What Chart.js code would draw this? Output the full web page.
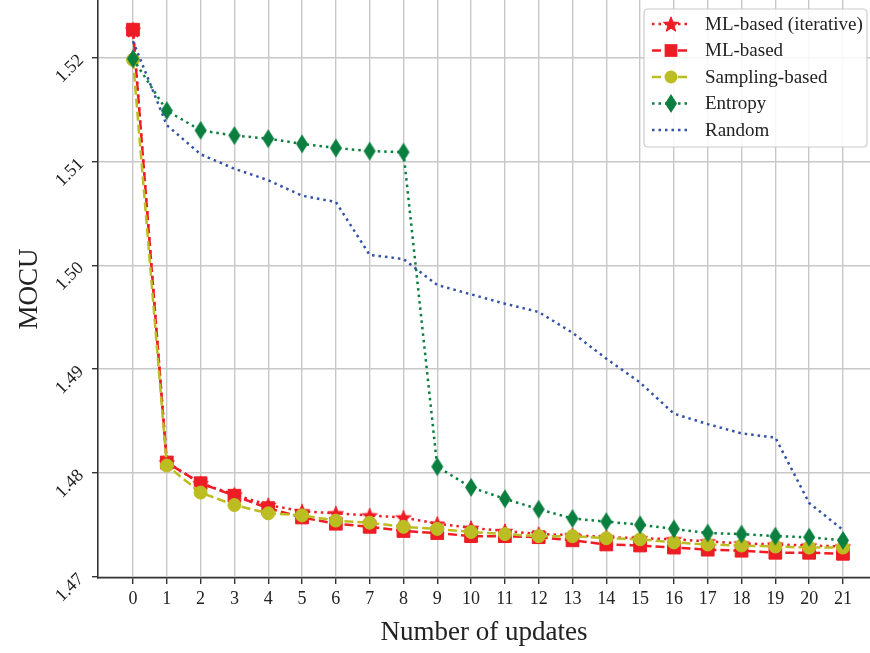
<!DOCTYPE html>
<html><head><meta charset="utf-8">
<script src="https://cdn.jsdelivr.net/npm/chart.js@4.4.0/dist/chart.umd.min.js"></script>
<style>html,body{margin:0;padding:0;background:#fff}canvas{display:block}</style>
</head><body>
<canvas id="c" width="870" height="653"></canvas>
<script>
// ---- data ----
const updates = [0,1,2,3,4,5,6,7,8,9,10,11,12,13,14,15,16,17,18,19,20,21];
const mlIterative = [1.5227,1.4810,1.4790,1.4779,1.4769,1.4763,1.4761,1.4759,1.4757,1.4751,1.4747,1.4744,1.4741,1.4740,1.4738,1.4737,1.4736,1.4734,1.4732,1.4731,1.4730,1.4729];
const mlBased = [1.5227,1.4810,1.4790,1.4778,1.4766,1.4757,1.4751,1.4748,1.4744,1.4742,1.4739,1.4739,1.4738,1.4735,1.4731,1.4730,1.4728,1.4726,1.4725,1.4723,1.4723,1.4722];
const samplingBased = [1.5198,1.4807,1.4781,1.4769,1.4761,1.4759,1.4754,1.4752,1.4748,1.4746,1.4743,1.4741,1.4739,1.4739,1.4737,1.4736,1.4733,1.4731,1.4730,1.4729,1.4728,1.4728];
const entropy = [1.5199,1.5149,1.5130,1.5125,1.5122,1.5117,1.5113,1.5110,1.5109,1.4806,1.4786,1.4775,1.4765,1.4756,1.4753,1.4750,1.4746,1.4742,1.4741,1.4739,1.4738,1.4735];
const random = [1.5216,1.5135,1.5107,1.5093,1.5082,1.5067,1.5061,1.5010,1.5006,1.4981,1.4972,1.4963,1.4955,1.4935,1.4910,1.4887,1.4857,1.4847,1.4838,1.4834,1.4771,1.4745];
const yTickValues = [1.47,1.48,1.49,1.50,1.51,1.52];
const xTickValues = updates;
const seriesLabels = ['ML-based (iterative)','ML-based','Sampling-based','Entropy','Random'];

// ---- styles ----
const RED = '#ee1c25', OLIVE = '#bcbd22', GREEN = '#0a7f3f', BLUE = '#3152a6';
const SERIF = '"Liberation Serif", "DejaVu Serif", serif';

function makeStar(color, R) {
  const s = Math.ceil(R * 2 + 4);
  const c = document.createElement('canvas'); c.width = s; c.height = s;
  const g = c.getContext('2d'); const cx = s / 2, cy = s / 2 + R * 0.1;
  g.beginPath();
  for (let i = 0; i < 10; i++) {
    const r = i % 2 === 0 ? R : R * 0.42;
    const a = -Math.PI / 2 + i * Math.PI / 5;
    const px = cx + r * Math.cos(a), py = cy + r * Math.sin(a);
    i === 0 ? g.moveTo(px, py) : g.lineTo(px, py);
  }
  g.closePath(); g.fillStyle = color; g.fill();
  g.lineWidth = 1; g.strokeStyle = color; g.stroke();
  return c;
}
function makeDiamond(color, w, h) {
  const c = document.createElement('canvas'); c.width = w + 2; c.height = h + 2;
  const g = c.getContext('2d'); const cx = c.width / 2, cy = c.height / 2;
  g.beginPath(); g.moveTo(cx, 1); g.lineTo(cx + w / 2, cy); g.lineTo(cx, h + 1); g.lineTo(cx - w / 2, cy); g.closePath();
  g.fillStyle = color; g.fill(); return c;
}
const starImg = makeStar(RED, 8);
const diamondImg = makeDiamond(GREEN, 12, 19);

function pts(arr) { return updates.map((u, i) => ({ x: u, y: arr[i] })); }

const datasets = [
  { label: seriesLabels[0], data: pts(mlIterative), borderColor: RED, backgroundColor: RED, borderWidth: 2.5, borderDash: [2.5, 4], pointStyle: starImg, pointRadius: 8, order: 5 },
  { label: seriesLabels[1], data: pts(mlBased), borderColor: RED, backgroundColor: RED, borderWidth: 2.5, borderDash: [9, 4], pointStyle: 'rect', pointRadius: 9, pointBorderWidth: 1, order: 4 },
  { label: seriesLabels[2], data: pts(samplingBased), borderColor: OLIVE, backgroundColor: OLIVE, borderWidth: 2.5, borderDash: [9, 4], pointStyle: 'circle', pointRadius: 6.5, pointBorderWidth: 1, order: 3 },
  { label: seriesLabels[3], data: pts(entropy), borderColor: GREEN, backgroundColor: GREEN, borderWidth: 2.5, borderDash: [2.5, 4], pointStyle: diamondImg, pointRadius: 9, order: 2 },
  { label: seriesLabels[4], data: pts(random), borderColor: BLUE, backgroundColor: BLUE, borderWidth: 2.5, borderDash: [2.5, 4], pointRadius: 0, order: 1 }
];
datasets.forEach(d => { d.tension = 0; d.fill = false; d.borderCapStyle = 'butt'; d.pointHoverRadius = d.pointRadius; });

const legendPlugin = {
  id: 'mplLegend',
  afterDraw(chart) {
    const ctx = chart.ctx;
    const bx = 644, by = 9, bw = 223, bh = 138, r = 4;
    ctx.save();
    ctx.setLineDash([]);
    ctx.beginPath();
    ctx.moveTo(bx + r, by); ctx.lineTo(bx + bw - r, by); ctx.quadraticCurveTo(bx + bw, by, bx + bw, by + r);
    ctx.lineTo(bx + bw, by + bh - r); ctx.quadraticCurveTo(bx + bw, by + bh, bx + bw - r, by + bh);
    ctx.lineTo(bx + r, by + bh); ctx.quadraticCurveTo(bx, by + bh, bx, by + bh - r);
    ctx.lineTo(bx, by + r); ctx.quadraticCurveTo(bx, by, bx + r, by); ctx.closePath();
    ctx.fillStyle = 'rgba(255,255,255,0.85)'; ctx.fill();
    ctx.lineWidth = 1.2; ctx.strokeStyle = '#cccccc'; ctx.stroke();
    const ds = chart.data.datasets;
    ds.forEach((d, i) => {
      const y = 24 + i * 26.5;
      ctx.setLineDash(d.borderDash); ctx.lineWidth = d.borderWidth; ctx.strokeStyle = d.borderColor; ctx.lineCap = 'butt';
      ctx.beginPath(); ctx.moveTo(652, y); ctx.lineTo(690, y); ctx.stroke();
      ctx.setLineDash([]);
      const mx = 671;
      if (d.pointRadius > 0) {
        if (d.pointStyle instanceof HTMLCanvasElement) {
          ctx.drawImage(d.pointStyle, mx - d.pointStyle.width / 2, y - d.pointStyle.height / 2);
        } else if (d.pointStyle === 'rect') {
          const s = d.pointRadius * Math.SQRT1_2;
          ctx.fillStyle = d.backgroundColor; ctx.fillRect(mx - s, y - s, 2 * s, 2 * s);
        } else if (d.pointStyle === 'circle') {
          ctx.beginPath(); ctx.arc(mx, y, d.pointRadius, 0, Math.PI * 2); ctx.fillStyle = d.backgroundColor; ctx.fill();
        }
      }
      ctx.fillStyle = '#222'; ctx.font = '19px ' + SERIF; ctx.textBaseline = 'middle'; ctx.textAlign = 'left';
      ctx.fillText(d.label, 705, y + 1);
    });
    ctx.restore();
  }
};

function zeroPad(s) { s.paddingTop = 0; s.paddingBottom = 0; s.paddingLeft = 0; s.paddingRight = 0; }

new Chart(document.getElementById('c'), {
  type: 'line',
  data: { datasets },
  plugins: [legendPlugin],
  options: {
    responsive: false, animation: false, devicePixelRatio: 1,
    layout: { padding: 0, autoPadding: false },
    plugins: { legend: { display: false }, tooltip: { enabled: false } },
    scales: {
      x: {
        type: 'linear', min: -1.035, max: 21.8,
        afterBuildTicks: s => { s.ticks = xTickValues.map(v => ({ value: v })); },
        afterFit: s => { s.height = 75; zeroPad(s); },
        grid: { color: '#c8c8c8', lineWidth: 1.4, drawTicks: true, tickLength: 6, tickColor: '#333', tickWidth: 1.4 },
        border: { display: true, color: '#333', width: 1.6 },
        ticks: { color: '#222', font: { family: SERIF, size: 18 }, padding: 4, maxRotation: 0, autoSkip: false, callback: v => String(v) },
        title: { display: true, text: 'Number of updates', color: '#222', font: { family: SERIF, size: 27 }, padding: { top: 0, bottom: 4 } }
      },
      y: {
        type: 'linear', min: 1.46987, max: 1.52556,
        afterBuildTicks: s => { s.ticks = yTickValues.map(v => ({ value: v })); },
        afterFit: s => { s.width = 98; zeroPad(s); },
        grid: { color: '#c8c8c8', lineWidth: 1.4, drawTicks: true, tickLength: 6, tickColor: '#333', tickWidth: 1.4 },
        border: { display: true, color: '#333', width: 1.6 },
        ticks: { color: '#222', font: { family: SERIF, size: 18 }, padding: 11, minRotation: 45, maxRotation: 45, autoSkip: false, callback: v => v.toFixed(2) },
        title: { display: true, text: 'MOCU', color: '#222', font: { family: SERIF, size: 27 }, padding: { top: 14, bottom: 0 } }
      }
    }
  }
});
</script>
</body></html>
